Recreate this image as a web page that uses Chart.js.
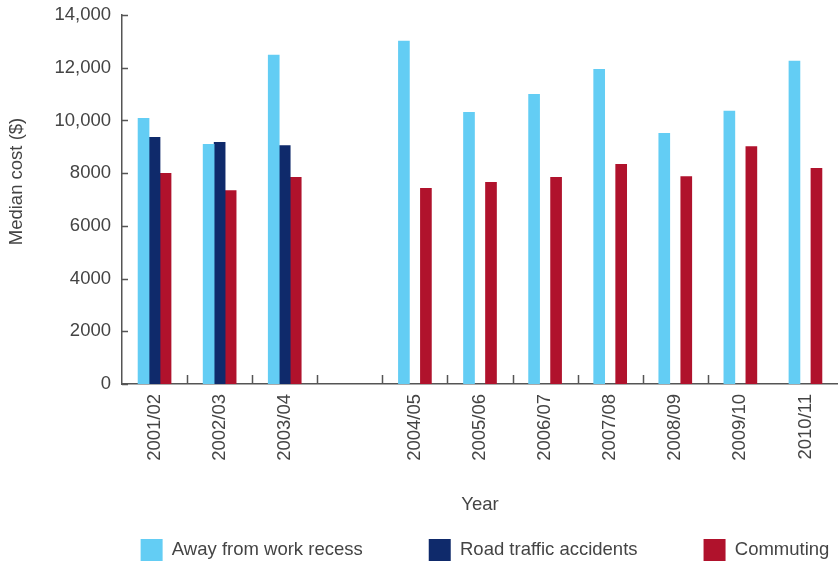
<!DOCTYPE html>
<html>
<head>
<meta charset="utf-8">
<script src="https://cdn.jsdelivr.net/npm/chart.js@4/dist/chart.umd.min.js"></script>
<style>
  html, body { margin: 0; padding: 0; background: #fff; overflow: hidden; }
  #wrap { width: 838px; height: 562px; position: relative; }
</style>
</head>
<body>
<div id="wrap"><canvas id="chart"></canvas></div>
<script>
  // categories (empty slot between 2003/04 and 2004/05 as in the source)
  const years = ['2001/02', '2002/03', '2003/04', '', '2004/05', '2005/06', '2006/07', '2007/08', '2008/09', '2009/10', '2010/11'];
  const awayFromWork = [10080, 9090, 12480, null, 13010, 10310, 10990, 11940, 9510, 10350, 12250];
  const roadTraffic = [9360, 9170, 9050, null, null, null, null, null, null, null, null];
  const commuting = [7990, 7340, 7840, null, 7420, 7650, 7840, 8330, 7870, 9010, 8180];
  const yTickLabels = { 0: '0', 2000: '2000', 4000: '4000', 6000: '6000', 8000: '8000', 10000: '10,000', 12000: '12,000', 14000: '14,000' };

  const axisColor = '#555';
  const textColor = '#444';
  const fontFamily = '"Liberation Sans", Arial, sans-serif';
  const fs = 18.5;

  // tick marks drawn inward, like the original
  const innerTicks = {
    id: 'innerTicks',
    afterDatasetsDraw(chart){
      const ctx = chart.ctx, x = chart.scales.x, y = chart.scales.y;
      ctx.save();
      ctx.strokeStyle = axisColor;
      ctx.lineWidth = 1.5;
      ctx.beginPath();
      y.ticks.forEach(t => {
        const py = Math.round(y.getPixelForValue(t.value)) + 0.5;
        ctx.moveTo(y.right, py); ctx.lineTo(y.right + 6, py);
      });
      for (let i = 1; i <= 9; i++) {
        const px = Math.round((x.getPixelForValue(i - 1) + x.getPixelForValue(i)) / 2) + 0.5;
        ctx.moveTo(px, x.top); ctx.lineTo(px, x.top - 9);
      }
      ctx.stroke();
      ctx.restore();
    }
  };

  // nudge the legend row to where the original has it
  const legendShift = {
    id: 'legendShift',
    afterLayout(chart){
      const lg = chart.legend;
      if (!lg) return;
      lg.left += 66; lg.right += 66;
      lg.top += 9; lg.bottom += 9;
    }
  };

  Chart.defaults.font.family = fontFamily;
  Chart.defaults.color = textColor;

  new Chart(document.getElementById('chart'), {
    type: 'bar',
    data: {
      labels: years,
      datasets: [
        { label: 'Away from work recess', data: awayFromWork, backgroundColor: '#63cdf4' },
        { label: 'Road traffic accidents', data: roadTraffic, backgroundColor: '#0f2a6b' },
        { label: 'Commuting', data: commuting, backgroundColor: '#b0122c' }
      ]
    },
    options: {
      responsive: true,
      maintainAspectRatio: false,
      animation: false,
      barThickness: 11,
      layout: { padding: { top: 15, right: 0, left: 0, bottom: 0 } },
      plugins: {
        tooltip: { enabled: false },
        legend: {
          position: 'bottom',
          labels: { boxWidth: 22, boxHeight: 22, padding: 66, font: { size: fs }, color: textColor }
        }
      },
      scales: {
        x: {
          grid: { display: false, drawTicks: false },
          border: { color: axisColor, width: 1.5 },
          ticks: { minRotation: 90, maxRotation: 90, padding: 10, font: { size: fs }, autoSkip: false },
          title: { display: true, text: 'Year', font: { size: fs }, padding: { top: 0, bottom: -52 } },
          afterFit(s){ s.height = 80; }
        },
        y: {
          min: 0, max: 14000,
          grid: { display: false, drawTicks: false },
          border: { color: axisColor, width: 1.5 },
          ticks: { stepSize: 2000, padding: 11, font: { size: fs }, callback: v => yTickLabels[v] },
          title: { display: true, text: '       Median cost ($)', font: { size: fs }, padding: { top: 6, bottom: 0 } },
          afterFit(s){ s.width = 122; s.paddingTop = 0; }
        }
      }
    },
    plugins: [innerTicks, legendShift]
  });
</script>
</body>
</html>
